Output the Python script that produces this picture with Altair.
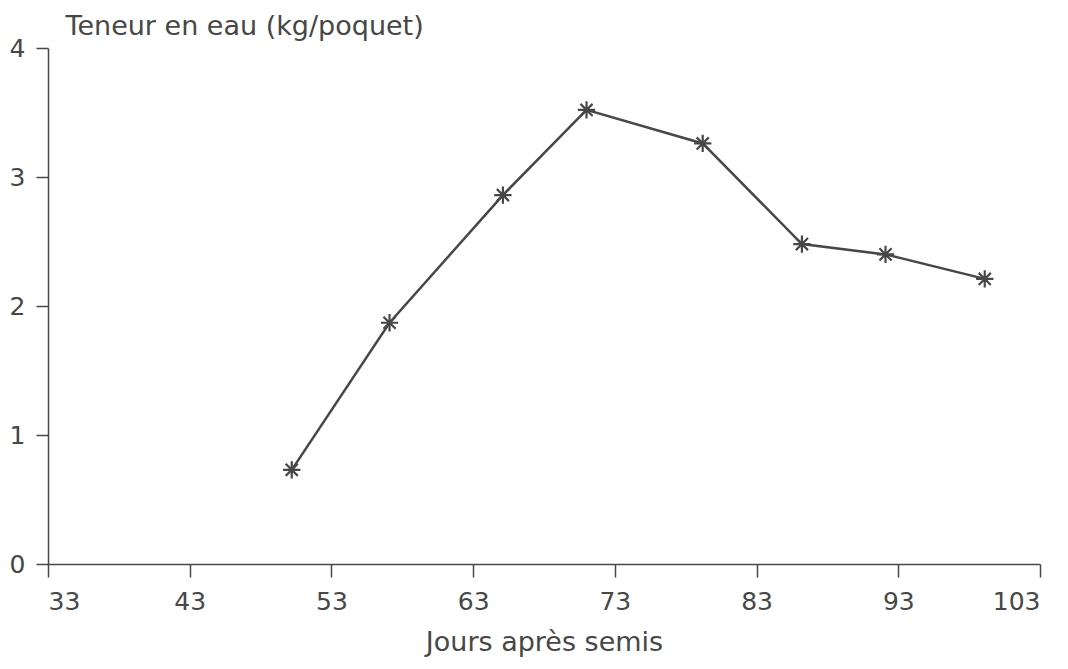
import altair as alt
import pandas as pd

days = [50.2, 57.1, 65.1, 71.0, 79.2, 86.2, 92.1, 99.1]
water = [0.73, 1.87, 2.86, 3.52, 3.26, 2.48, 2.40, 2.21]
x_ticks = [33, 43, 53, 63, 73, 83, 93, 103]
y_ticks = [0, 1, 2, 3, 4]

df = pd.DataFrame({"jours": days, "eau": water})

INK = "#474747"
FONT = "DejaVu Sans"
STAR = "M0,-1L0,1M-1,0L1,0M-0.7,-0.7L0.7,0.7M-0.7,0.7L0.7,-0.7"

x_enc = alt.X(
    "jours:Q",
    scale=alt.Scale(domain=[33, 103], nice=False, zero=False),
    axis=alt.Axis(
        values=x_ticks,
        title="Jours après semis",
        titleFontSize=27,
        titleFontWeight="normal",
        titleFont=FONT,
        titleColor=INK,
        titleY=86,
        titleBaseline="alphabetic",
        labelFontSize=25,
        labelFont=FONT,
        labelColor=INK,
        labelPadding=12,
        tickSize=13,
        tickColor=INK,
        domainColor=INK,
        tickWidth=1.5,
        domainWidth=1.5,
        grid=False,
    ),
)
y_enc = alt.Y(
    "eau:Q",
    scale=alt.Scale(domain=[0, 4], nice=False),
    axis=alt.Axis(
        values=y_ticks,
        title="Teneur en eau (kg/poquet)",
        titleAngle=0,
        titleAlign="left",
        titleBaseline="alphabetic",
        titleX=17,
        titleY=-14,
        titleFontSize=27,
        titleFontWeight="normal",
        titleFont=FONT,
        titleColor=INK,
        labelFontSize=25,
        labelFont=FONT,
        labelColor=INK,
        labelPadding=11,
        tickSize=12,
        tickColor=INK,
        domainColor=INK,
        tickWidth=1.5,
        domainWidth=1.5,
        grid=False,
    ),
)

base = alt.Chart(df).encode(x=x_enc, y=y_enc)
line = base.mark_line(color=INK, strokeWidth=2.5)
pts = base.mark_point(shape=STAR, size=300, filled=False, color=INK, strokeWidth=2.2, opacity=1)

chart = (
    alt.layer(line, pts)
    .properties(
        width=992,
        height=516,
        padding={"left": 40, "top": 40, "right": 20, "bottom": 96},
        autosize="none",
        background="white",
    )
    .configure_view(stroke=None)
)

chart.save("out.html", embed_options={"renderer": "svg", "actions": False})
